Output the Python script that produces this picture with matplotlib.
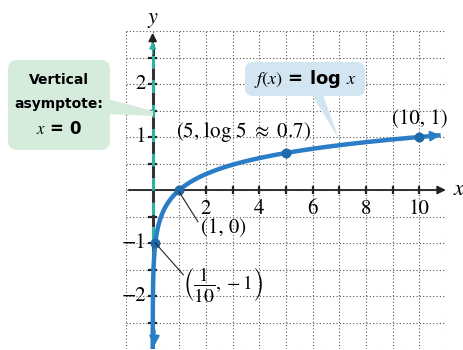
import numpy as np
import matplotlib
matplotlib.use("Agg")
import matplotlib.pyplot as plt
from matplotlib.patches import FancyBboxPatch, Polygon

plt.rcParams['mathtext.fontset'] = 'stix'
SERIF = 'STIXGeneral'

# ---- data ----
curve_x = np.geomspace(0.001, 10.8, 600)
curve_y = np.log10(curve_x)
point_x = [0.1, 1, 5, 10]
point_y = [-1, 0, 0.69897, 1]
xtick_vals = [2, 4, 6, 8, 10]
xtick_labels = ["2", "4", "6", "8", "10"]
ytick_vals = [-2, -1, 1, 2]
ytick_labels = ["\u22122", "\u22121", "1", "2"]

BLUE = '#2a7dc6'
DOT = '#1f6aa8'
TEAL = '#2bb3a0'

W, H = 463, 350
fig = plt.figure(figsize=(W / 100, H / 100), dpi=100)
L, R, T, B = 126, 446, 31, 349
ax = fig.add_axes([L / W, 1 - B / H, (R - L) / W, (B - T) / H])
ax.set_xlim(-1, 11)
ax.set_ylim(-3, 3)
for s in ax.spines.values():
    s.set_visible(False)
ax.set_xticks([])
ax.set_yticks([])

# grid
for gx in np.arange(-1, 12, 1):
    ax.plot([gx, gx], [-3, 3], ls=(0, (1, 2)), color='#555555', lw=0.8, zorder=1)
for gy in np.arange(-3, 3.01, 0.5):
    ax.plot([-1, 11], [gy, gy], ls=(0, (1, 2)), color='#555555', lw=0.8, zorder=1)

# axes lines
ax.annotate('', xy=(11.1, 0), xytext=(-1, 0),
            arrowprops=dict(arrowstyle='-|>', color='#222222', lw=1.3, mutation_scale=12),
            annotation_clip=False, zorder=3)
# tick marks
for tx in range(1, 11):
    ax.plot([tx, tx], [-0.08, 0.08], color='#222222', lw=1.6, zorder=3, solid_capstyle='butt')
for ty in np.arange(-2.5, 2.51, 0.5):
    if abs(ty) > 1e-9:
        ax.plot([-0.18, 0.18], [ty, ty], color='#222222', lw=1.6, zorder=3, solid_capstyle='butt')

# asymptote (dashed teal/black)
ax.plot([0, 0], [-3, 2.75], color='#333333', lw=2.2, ls=(0, (4, 4)), zorder=4)
ax.plot([0, 0], [-3, 2.75], color=TEAL, lw=2.2, ls=(4, (4, 4)), zorder=4)
ax.annotate('', xy=(0, 3.02), xytext=(0, 2.6),
            arrowprops=dict(arrowstyle='-|>', color='#222222', lw=1.3, mutation_scale=12),
            annotation_clip=False, zorder=5)
ax.annotate('', xy=(0, 2.85), xytext=(0, 2.5),
            arrowprops=dict(arrowstyle='-|>', color=TEAL, lw=1.0, mutation_scale=10),
            annotation_clip=False, zorder=5)

# curve
ax.plot(curve_x, curve_y, color=BLUE, lw=3.2, zorder=6, solid_capstyle='butt')
ax.annotate('', xy=(10.9, np.log10(10.9)), xytext=(10.3, np.log10(10.3)),
            arrowprops=dict(arrowstyle='-|>', color=BLUE, lw=1.5, mutation_scale=15),
            annotation_clip=False, zorder=7)
ax.annotate('', xy=(0.05, -3.0), xytext=(0.08, -2.6),
            arrowprops=dict(arrowstyle='-|>', color=BLUE, lw=1.5, mutation_scale=15),
            annotation_clip=False, zorder=7)
ax.scatter(point_x, point_y, s=38, color=DOT, zorder=8)

# tick labels
for v, lab in zip(xtick_vals, xtick_labels):
    ax.text(v, -0.17, lab, ha='center', va='top', fontsize=15, family=SERIF, zorder=9)
for v, lab in zip(ytick_vals, ytick_labels):
    ax.text(-0.25, v, lab, ha='right', va='center', fontsize=15, family=SERIF, zorder=9)
ax.text(0, 3.06, 'y', ha='center', va='bottom', fontsize=16, family=SERIF,
        style='italic', clip_on=False)
ax.text(11.3, 0, 'x', ha='left', va='center', fontsize=16, family=SERIF,
        style='italic', clip_on=False)

# point labels
ax.text(3.4, 1.1, r'(5, log 5 $\approx$ 0.7)', ha='center', va='center', fontsize=15,
        family=SERIF, zorder=9)
ax.text(10.0, 1.33, '(10, 1)', ha='center', va='center', fontsize=15, family=SERIF, zorder=9)
ax.text(2.65, -0.73, '(1, 0)', ha='center', va='center', fontsize=15, family=SERIF, zorder=9)
ax.text(2.65, -1.78, r'$\left(\dfrac{1}{10}, -1\right)$', ha='center', va='center',
        fontsize=14, zorder=9)
ax.plot([1.0, 1.7], [-0.04, -0.6], color='#222222', lw=0.8, zorder=9)
ax.plot([0.1, 1.15], [-1.0, -1.6], color='#222222', lw=0.8, zorder=9)

# overlay in pixel coordinates for callouts
ov = fig.add_axes([0, 0, 1, 1], zorder=10)
ov.set_xlim(0, W)
ov.set_ylim(H, 0)
ov.axis('off')
ov.patch.set_alpha(0)

GREEN_BOX = '#d5ecdc'
BLUE_BOX = '#d2e5f0'
ov.add_patch(FancyBboxPatch((8, 60), 102, 90, boxstyle='round,pad=0,rounding_size=9',
                            fc=GREEN_BOX, ec='none'))
ov.add_patch(Polygon([(108, 99), (108, 114), (153, 116), (153, 111)], closed=True,
                     fc=GREEN_BOX, ec='none'))
ov.text(59, 80, 'Vertical', ha='center', va='center', fontsize=10, fontweight='bold',
        family='DejaVu Sans')
ov.text(59, 104, 'asymptote:', ha='center', va='center', fontsize=10, fontweight='bold',
        family='DejaVu Sans')
ov.text(59, 129, r'$x$ = 0', ha='center', va='center', fontsize=12, fontweight='bold',
        family='DejaVu Sans')

ov.add_patch(FancyBboxPatch((245, 62), 120, 34, boxstyle='round,pad=0,rounding_size=8',
                            fc=BLUE_BOX, ec='none'))
ov.add_patch(Polygon([(312, 95), (323, 95), (339, 139)], closed=True,
                     fc=BLUE_BOX, ec='none'))
ov.text(305, 79, r'$f(x)$ = log $x$', ha='center', va='center', fontsize=13,
        fontweight='bold', family='DejaVu Sans')

fig.savefig('out.png', dpi=100)
